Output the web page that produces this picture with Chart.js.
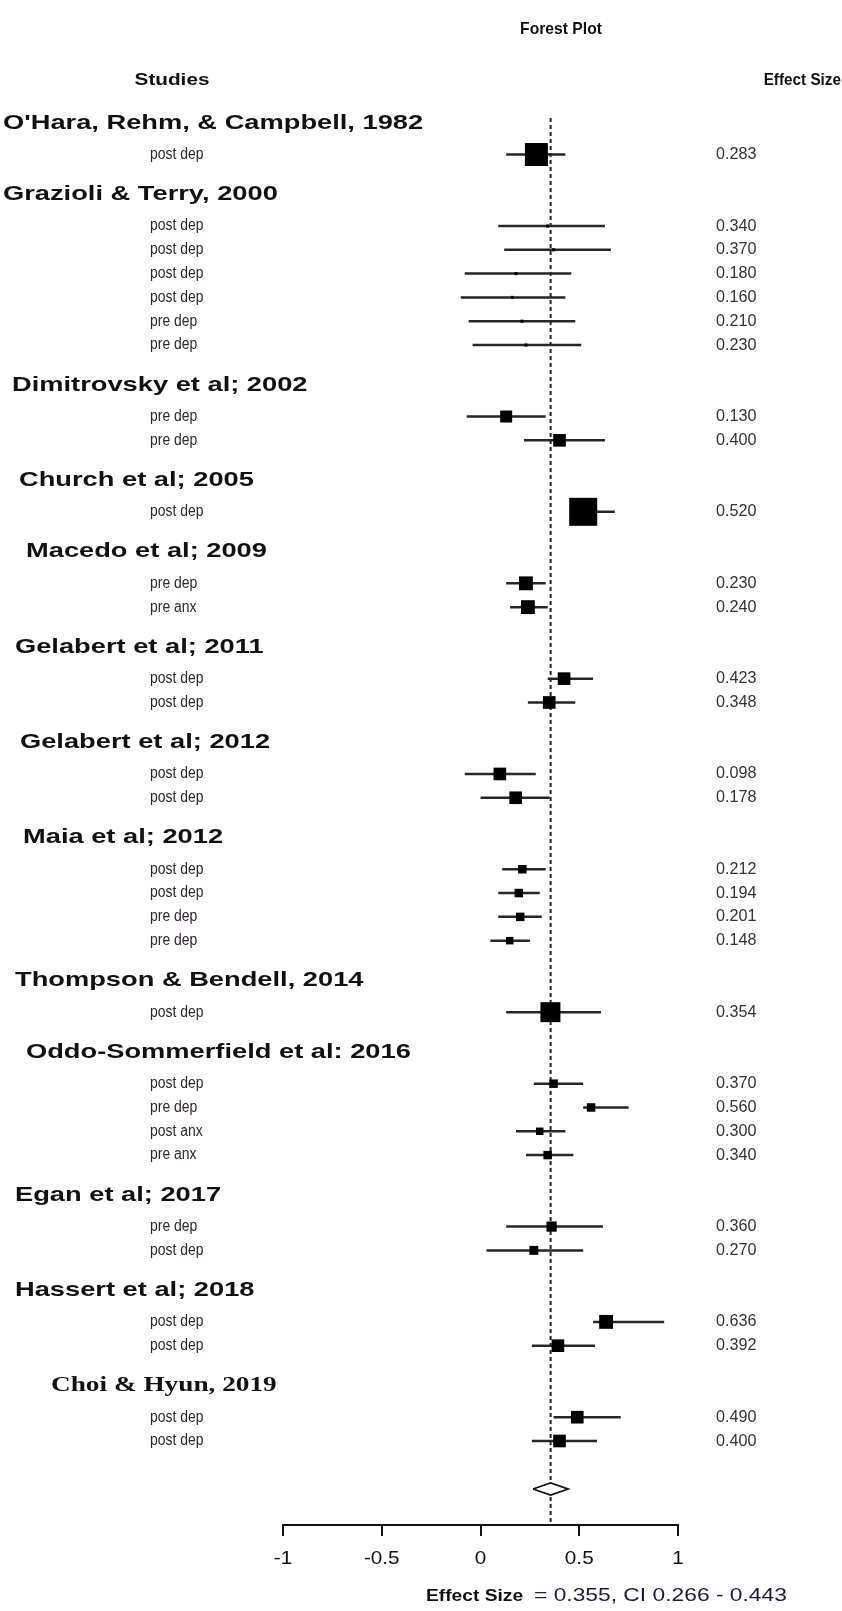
<!DOCTYPE html>
<html>
<head>
<meta charset="utf-8">
<title>Forest Plot</title>
<script src="https://cdn.jsdelivr.net/npm/chart.js@4.4.1/dist/chart.umd.min.js"></script>
<style>
  html, body { margin: 0; padding: 0; background: #fff; }
  #wrap { width: 842px; height: 1611px; position: relative; }
</style>
</head>
<body>
<div id="wrap"><canvas id="forest"></canvas></div>
<script>
// studies and their outcome rows
var studies = [
  "O'Hara, Rehm, & Campbell, 1982",
  'Grazioli & Terry, 2000',
  'Dimitrovsky et al; 2002',
  'Church et al; 2005',
  'Macedo et al; 2009',
  'Gelabert et al; 2011',
  'Gelabert et al; 2012',
  'Maia et al; 2012',
  'Thompson & Bendell, 2014',
  'Oddo-Sommerfield et al: 2016',
  'Egan et al; 2017',
  'Hassert et al; 2018',
  'Choi & Hyun, 2019'
];
var rowStudy = [0, 1, 1, 1, 1, 1, 1, 2, 2, 3, 4, 4, 5, 5, 6, 6, 7, 7, 7, 7, 8, 9, 9, 9, 9, 10, 10, 11, 11, 12, 12];
var outcomes = [
  'post dep',
  'post dep', 'post dep', 'post dep', 'post dep', 'pre dep', 'pre dep',
  'pre dep', 'pre dep',
  'post dep',
  'pre dep', 'pre anx',
  'post dep', 'post dep',
  'post dep', 'post dep',
  'post dep', 'post dep', 'pre dep', 'pre dep',
  'post dep',
  'post dep', 'pre dep', 'post anx', 'pre anx',
  'pre dep', 'post dep',
  'post dep', 'post dep',
  'post dep', 'post dep'
];
var effects = [
  0.283,
  0.340, 0.370, 0.180, 0.160, 0.210, 0.230,
  0.130, 0.400,
  0.520,
  0.230, 0.240,
  0.423, 0.348,
  0.098, 0.178,
  0.212, 0.194, 0.201, 0.148,
  0.354,
  0.370, 0.560, 0.300, 0.340,
  0.360, 0.270,
  0.636, 0.392,
  0.490, 0.400
];
var ciLower = [
  0.13,
  0.09, 0.12, -0.08, -0.10, -0.06, -0.04,
  -0.07, 0.22,
  0.48,
  0.13, 0.15,
  0.34, 0.24,
  -0.08, 0.00,
  0.11, 0.09, 0.09, 0.05,
  0.13,
  0.27, 0.52, 0.18, 0.23,
  0.13, 0.03,
  0.57, 0.26,
  0.37, 0.26
];
var ciUpper = [
  0.43,
  0.63, 0.66, 0.46, 0.43, 0.48, 0.51,
  0.33, 0.63,
  0.68,
  0.33, 0.34,
  0.57, 0.48,
  0.28, 0.35,
  0.33, 0.30, 0.31, 0.25,
  0.61,
  0.52, 0.75, 0.43, 0.47,
  0.62, 0.52,
  0.93, 0.58,
  0.71, 0.59
];
var weights = [
  33,
  0.6, 0.6, 0.6, 0.6, 0.6, 0.6,
  9, 10,
  49,
  12, 12,
  10, 10,
  10, 10,
  4.5, 4.5, 4.5, 3.5,
  25,
  4.5, 4.5, 3.5, 4.5,
  6.5, 5,
  12, 10,
  10, 10
];
var pooled = 0.355;
var pooledLower = 0.266;
var pooledUpper = 0.443;
var xTicks = [-1, -0.5, 0, 0.5, 1];

// vertical spacing between lines (in pixels, y axis is 1:1)
var gap = { headToRow: 31.5, rowToRow: 23.8, rowToHead: 40, lastToDiamond: 48, diamondToAxis: 36 };
var headerIndent = [3, 3, 12, 19, 26, 15, 20, 23, 15, 26, 15, 15, 51];
var SX = 1.33; // study headings are drawn wide

var headerY = [];
var rowY = [];
var cursor = 0;
studies.forEach(function (name, s) {
  if (s > 0) cursor += gap.rowToHead;
  headerY.push(cursor);
  var first = true;
  rowStudy.forEach(function (st, i) {
    if (st !== s) return;
    cursor += first ? gap.headToRow : gap.rowToRow;
    rowY[i] = cursor;
    first = false;
  });
});
var diamondY = cursor + gap.lastToDiamond;
var axisY = diamondY + gap.diamondToAxis;
var yTop = -23;

// CI whiskers as one broken line
var ciPoints = [];
effects.forEach(function (v, i) {
  ciPoints.push({ x: ciLower[i], y: rowY[i] });
  ciPoints.push({ x: ciUpper[i], y: rowY[i] });
  ciPoints.push({ x: null, y: rowY[i] });
});

var boxPoints = effects.map(function (v, i) { return { x: v, y: rowY[i] }; });
var boxRadius = weights.map(function (w) { return 2 * Math.sqrt(w) * Math.SQRT2; });

var diamond = [
  { x: pooledLower, y: diamondY },
  { x: pooled, y: diamondY - 6 },
  { x: pooledUpper, y: diamondY },
  { x: pooled, y: diamondY + 6 },
  { x: pooledLower, y: diamondY }
];

// text with a horizontal stretch (sx < 1 gives a condensed look)
function wideText(ctx, text, x, y, font, color, align, sx) {
  ctx.save();
  ctx.font = font;
  ctx.fillStyle = color;
  ctx.textBaseline = 'middle';
  ctx.textAlign = align || 'left';
  ctx.translate(x, y);
  ctx.scale(sx || 1, 1);
  ctx.fillText(text, 0, 0);
  ctx.restore();
}

var labelsPlugin = {
  id: 'forestLabels',
  afterDraw: function (chart) {
    var ctx = chart.ctx;
    var xs = chart.scales.x;
    var ys = chart.scales.y;
    var sans = '"Liberation Sans", Arial, sans-serif';

    wideText(ctx, 'Forest Plot', 561, 29, 'bold 16.5px ' + sans, '#111', 'center', 0.95);
    wideText(ctx, 'Studies', 172, 80, 'bold 17px ' + sans, '#111', 'center', 1.22);
    wideText(ctx, 'Effect Size', 841, 80, 'bold 17px ' + sans, '#111', 'right', 0.9);

    studies.forEach(function (name, s) {
      var font = s === studies.length - 1
        ? 'bold 20.5px "Liberation Serif", "Times New Roman", serif'
        : 'bold 20.5px ' + sans;
      wideText(ctx, name, headerIndent[s], ys.getPixelForValue(headerY[s]), font, '#111', 'left', SX);
    });

    outcomes.forEach(function (label, i) {
      var py = ys.getPixelForValue(rowY[i]);
      wideText(ctx, label, 150, py, '16px ' + sans, '#2e2630', 'left', 0.87);
      wideText(ctx, effects[i].toFixed(3), 716, py, '16.5px ' + sans, '#333', 'left', 0.98);
    });

    xTicks.forEach(function (t) {
      wideText(ctx, String(t), xs.getPixelForValue(t), 1559, '18px ' + sans, '#111', 'center', 1.15);
    });

    wideText(ctx, 'Effect Size', 426, 1596, 'bold 17px ' + sans, '#111', 'left', 1.13);
    wideText(ctx, '= ' + pooled.toFixed(3) + ', CI ' + pooledLower.toFixed(3) + ' - ' + pooledUpper.toFixed(3),
      534, 1596, '19px ' + sans, '#1c1c38', 'left', 1.2);
  }
};

new Chart(document.getElementById('forest'), {
  type: 'scatter',
  data: {
    datasets: [
      {
        label: 'summary',
        data: diamond,
        showLine: true,
        tension: 0,
        borderColor: '#111',
        borderWidth: 1.8,
        backgroundColor: '#fff',
        fill: 'shape',
        pointRadius: 0
      },
      {
        label: 'effect',
        data: boxPoints,
        pointStyle: 'rect',
        pointRadius: boxRadius,
        pointBackgroundColor: '#000',
        pointBorderWidth: 0
      },
      {
        label: 'ci',
        data: ciPoints,
        showLine: true,
        spanGaps: false,
        borderColor: '#262626',
        borderWidth: 2.5,
        pointRadius: 0
      },
      {
        label: 'pooled',
        data: [{ x: pooled, y: -5 }, { x: pooled, y: axisY }],
        showLine: true,
        borderColor: '#222',
        borderWidth: 2,
        borderDash: [4, 3],
        pointRadius: 0
      }
    ]
  },
  options: {
    responsive: true,
    maintainAspectRatio: false,
    animation: false,
    events: [],
    layout: { padding: { left: 283, right: 164, top: 100, bottom: 75 } },
    plugins: {
      legend: { display: false },
      tooltip: { enabled: false },
      title: { display: false }
    },
    scales: {
      x: {
        type: 'linear',
        min: -1,
        max: 1,
        afterBuildTicks: function (scale) {
          scale.ticks = xTicks.map(function (v) { return { value: v }; });
        },
        ticks: { display: false },
        grid: {
          drawOnChartArea: false,
          drawTicks: true,
          tickLength: 11,
          color: '#111',
          lineWidth: 2
        },
        border: { display: true, color: '#111', width: 2 }
      },
      y: {
        type: 'linear',
        reverse: true,
        min: yTop,
        max: axisY,
        display: false
      }
    }
  },
  plugins: [labelsPlugin]
});
</script>
</body>
</html>
